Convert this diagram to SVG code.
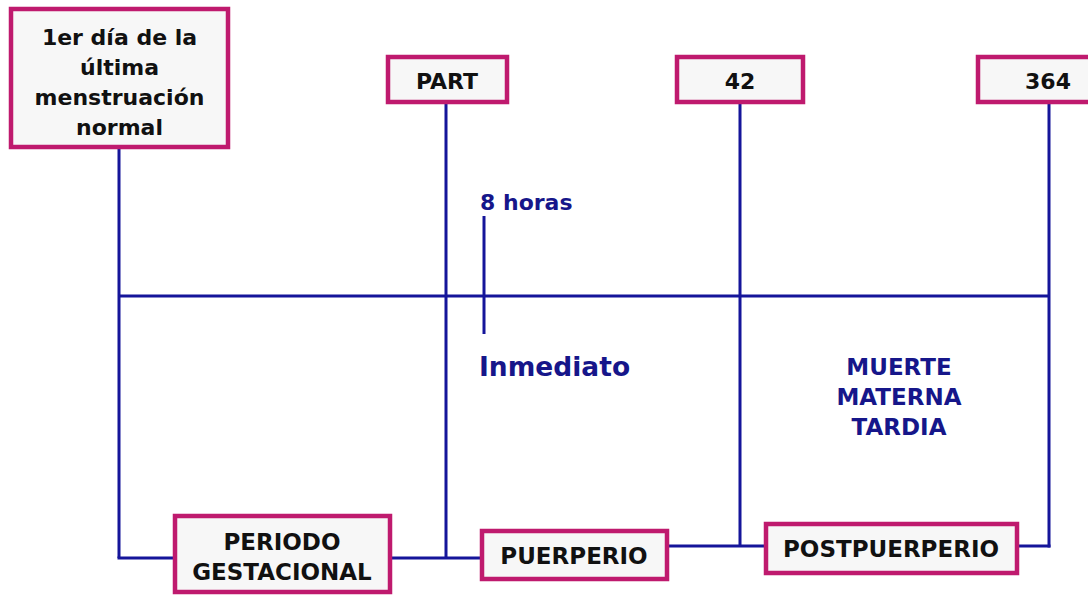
<svg xmlns="http://www.w3.org/2000/svg" width="1088" height="595" viewBox="0 0 1088 595">
<style>
.box{fill:#f7f7f7;stroke:#bf1a6e;stroke-width:4.5}
.t{font-family:"DejaVu Sans",Verdana,sans-serif;font-weight:bold;fill:#111;text-anchor:middle}
.b{font-family:"DejaVu Sans",Verdana,sans-serif;font-weight:bold;fill:#16168a}
.ln{stroke:#15159a;stroke-width:3;fill:none}
</style>
<rect width="1088" height="595" fill="#ffffff"/>
<g id="connectors">
<line class="ln" x1="119" y1="148" x2="119" y2="558"/>
<line class="ln" x1="117.5" y1="558" x2="174" y2="558"/>
<line class="ln" x1="119" y1="296" x2="1050" y2="296"/>
<line class="ln" x1="446" y1="103" x2="446" y2="558"/>
<line class="ln" x1="390" y1="558" x2="481" y2="558"/>
<line class="ln" x1="740" y1="103" x2="740" y2="546"/>
<line class="ln" x1="667" y1="546" x2="767" y2="546"/>
<line class="ln" x1="1049" y1="103" x2="1049" y2="547.5"/>
<line class="ln" x1="1018" y1="546" x2="1050.5" y2="546"/>
<line class="ln" x1="484" y1="216" x2="484" y2="334"/>
</g>
<g id="n_fum">
<rect class="box" x="11" y="9" width="217" height="138"/>
<text class="t" font-size="22" x="119.5" y="45">1er día de la</text>
<text class="t" font-size="22" x="119.5" y="75">última</text>
<text class="t" font-size="22" x="119.5" y="105">menstruación</text>
<text class="t" font-size="22" x="119.5" y="135">normal</text>
</g>
<g id="n_part">
<rect class="box" x="388" y="57" width="119" height="45"/>
<text class="t" font-size="22" x="447" y="89">PART</text>
</g>
<g id="n_42">
<rect class="box" x="677" y="57" width="126" height="45"/>
<text class="t" font-size="22" x="740" y="89">42</text>
</g>
<g id="n_364">
<rect class="box" x="978" y="57" width="116" height="45"/>
<text class="t" font-size="22" x="1048" y="89">364</text>
</g>
<g id="l_8h">
<text class="b" font-size="22" x="480" y="210">8 horas</text>
</g>
<g id="l_inm">
<text class="b" font-size="26.5" x="479" y="376">Inmediato</text>
</g>
<g id="l_mmt">
<text class="b" font-size="23" text-anchor="middle" x="899" y="375">MUERTE</text>
<text class="b" font-size="23" text-anchor="middle" x="899" y="405">MATERNA</text>
<text class="b" font-size="23" text-anchor="middle" x="899" y="435">TARDIA</text>
</g>
<g id="n_pg">
<rect class="box" x="175" y="516" width="215" height="76"/>
<text class="t" font-size="23" x="282" y="550">PERIODO</text>
<text class="t" font-size="23" x="282" y="580">GESTACIONAL</text>
</g>
<g id="n_puer">
<rect class="box" x="482" y="531" width="185" height="48"/>
<text class="t" font-size="23" x="574" y="564">PUERPERIO</text>
</g>
<g id="n_post">
<rect class="box" x="766" y="524" width="251" height="49"/>
<text class="t" font-size="23" x="891" y="557">POSTPUERPERIO</text>
</g>
</svg>
